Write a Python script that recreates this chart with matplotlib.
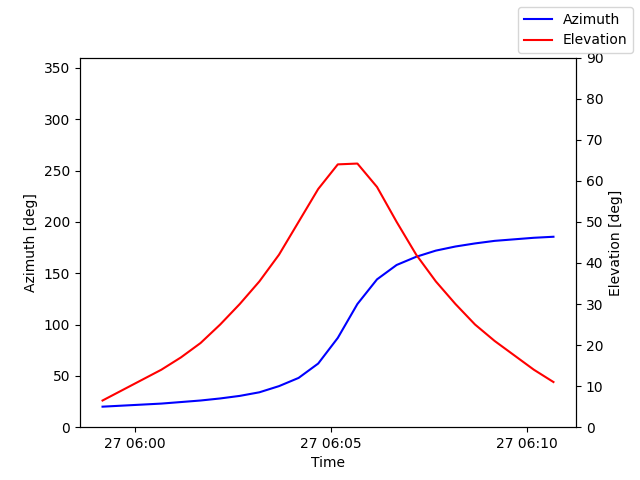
import numpy as np
import matplotlib
matplotlib.use("Agg")
import matplotlib.pyplot as plt
import matplotlib.dates as mdates
from datetime import datetime, timedelta

start = datetime(2024, 1, 27, 5, 59, 10)
times = [start + timedelta(seconds=30 * i) for i in range(24)]

azimuth = [20, 21, 22, 23, 24.5, 26, 28, 30.5, 34, 40, 48, 62, 87, 120,
           144, 158, 166, 172, 176, 179, 181.5, 183, 184.5, 185.5]
elevation = [6.5, 9, 11.5, 14, 17, 20.5, 25, 30, 35.5, 42, 50, 58, 64, 64.2,
             58.5, 50, 42, 35.5, 30, 25, 21, 17.5, 14, 11]

fig, ax1 = plt.subplots(figsize=(6.4, 4.8), dpi=100)
ax1.plot(times, azimuth, color='b', label='Azimuth')
ax1.set_ylim(0, 360)
ax1.set_ylabel('Azimuth [deg]')
ax1.set_xlabel('Time')

ax2 = ax1.twinx()
ax2.plot(times, elevation, color='r', label='Elevation')
ax2.set_ylim(0, 90)
ax2.set_ylabel('Elevation [deg]')

ax1.xaxis.set_major_locator(mdates.MinuteLocator(byminute=[0, 5, 10]))
ax1.xaxis.set_major_formatter(mdates.DateFormatter('%d %H:%M'))

fig.legend()
fig.savefig('out.png')
